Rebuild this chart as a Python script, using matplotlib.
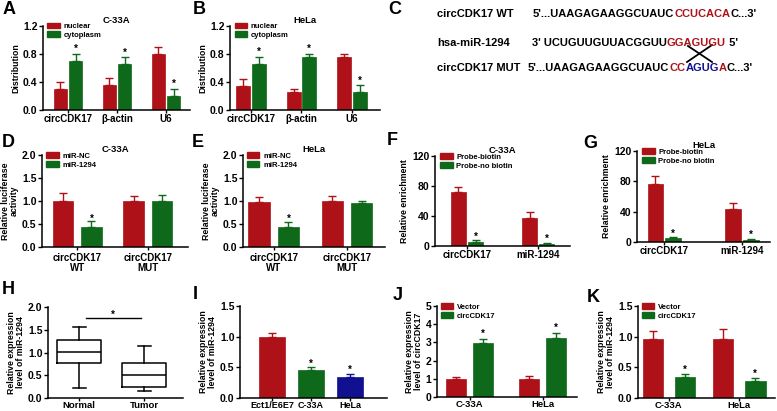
import matplotlib
matplotlib.use("Agg")
import matplotlib.pyplot as plt
import numpy as np

plt.rcParams['font.family'] = ['Liberation Sans', 'DejaVu Sans']
plt.rcParams['font.weight'] = 'bold'
plt.rcParams['axes.labelweight'] = 'bold'
plt.rcParams['axes.titleweight'] = 'bold'

RED = '#AE1218'
GREEN = '#0E6A1A'
BLUE = '#101090'

# ---------------- data ----------------
A_cats = ['circCDK17', 'β-actin', 'U6']
A_nuclear = [0.30, 0.35, 0.80]
A_nuclear_err = [0.10, 0.10, 0.10]
A_cyto = [0.70, 0.65, 0.20]
A_cyto_err = [0.10, 0.10, 0.10]

B_cats = ['circCDK17', 'β-actin', 'U6']
B_nuclear = [0.34, 0.25, 0.75]
B_nuclear_err = [0.10, 0.05, 0.05]
B_cyto = [0.66, 0.75, 0.25]
B_cyto_err = [0.10, 0.05, 0.10]

DE_cats = ['circCDK17\nWT', 'circCDK17\nMUT']
D_nc = [1.00, 1.00]
D_nc_err = [0.17, 0.10]
D_mir = [0.44, 1.00]
D_mir_err = [0.12, 0.12]
E_nc = [0.97, 1.00]
E_nc_err = [0.12, 0.10]
E_mir = [0.44, 0.95]
E_mir_err = [0.10, 0.06]

FG_cats = ['circCDK17', 'miR-1294']
F_biotin = [72, 37]
F_biotin_err = [7, 8]
F_nobiotin = [5, 3]
F_nobiotin_err = [3, 1.5]
G_biotin = [77, 44]
G_biotin_err = [10, 7]
G_nobiotin = [5, 3]
G_nobiotin_err = [1, 1.5]

H_cats = ['Normal', 'Tumor']
H_whislo = [0.22, 0.15]
H_q1 = [0.77, 0.25]
H_med = [1.02, 0.51]
H_q3 = [1.28, 0.76]
H_whishi = [1.55, 1.14]
H_sig = 1.76

I_cats = ['Ect1/E6E7', 'C-33A', 'HeLa']
I_vals = [1.00, 0.46, 0.35]
I_err = [0.06, 0.04, 0.04]

JK_cats = ['C-33A', 'HeLa']
J_vector = [1.00, 1.00]
J_vector_err = [0.10, 0.15]
J_circ = [2.95, 3.25]
J_circ_err = [0.25, 0.28]
K_vector = [0.97, 0.97]
K_vector_err = [0.13, 0.16]
K_circ = [0.34, 0.28]
K_circ_err = [0.05, 0.05]

# ---------------- figure ----------------
W, H = 777, 411
fig = plt.figure(figsize=(W / 100, H / 100), dpi=100)


def px_axes(l, t, r, b):
    return fig.add_axes([l / W, 1 - b / H, (r - l) / W, (b - t) / H])


def style(ax, ylim, yticks, yfmt, ylabel, xlim, xt, xlabels, title=None, xfs=7, xpad=1.0):
    for s in ['top', 'right']:
        ax.spines[s].set_visible(False)
    for s in ['left', 'bottom']:
        ax.spines[s].set_linewidth(1.1)
    ax.set_ylim(*ylim)
    ax.set_xlim(*xlim)
    ax.set_yticks(yticks)
    ax.set_yticklabels([yfmt.format(v) for v in yticks], fontsize=7.5, fontweight='bold')
    ax.set_xticks(xt)
    ax.set_xticklabels(xlabels, fontsize=xfs, fontweight='bold', linespacing=1.0)
    ax.tick_params(axis='y', direction='out', length=3, width=1.0, pad=1.0)
    ax.tick_params(axis='x', direction='out', length=2, width=1.0, pad=xpad)
    ax.set_ylabel(ylabel, fontsize=6.3, fontweight='bold', labelpad=2, linespacing=1.0)
    if title:
        ax.set_title(title, fontsize=6.8, fontweight='bold', pad=2)


def bars(ax, x, vals, errs, color, width):
    ax.bar(x, vals, width=width, color=color, edgecolor=color, linewidth=0.5, zorder=2)
    ax.errorbar(x, vals, yerr=[np.zeros(len(errs)), errs], fmt='none', ecolor=color,
                elinewidth=1.0, capsize=3, capthick=1.0, zorder=1)


def stars(ax, x, vals, errs, pad, which):
    for i in which:
        ax.text(x[i], vals[i] + errs[i] + pad, '*', ha='center', va='bottom',
                fontsize=7, fontweight='bold')


def legend(ax, labels, colors, anchor, fs=5.5):
    from matplotlib.patches import Patch
    handles = [Patch(facecolor=c, edgecolor=c) for c in colors]
    ax.legend(handles, labels, loc='upper left', bbox_to_anchor=anchor, frameon=False,
              handlelength=1.6, handleheight=0.8, handletextpad=0.5,
              labelspacing=0.15, borderaxespad=0, borderpad=0,
              prop={'weight': 'bold', 'size': fs})


# ---- A ----
ax = px_axes(43, 26, 190, 110)
x = np.arange(3)
bars(ax, x - 0.155, A_nuclear, A_nuclear_err, RED, 0.28)
bars(ax, x + 0.155, A_cyto, A_cyto_err, GREEN, 0.28)
stars(ax, x + 0.155, A_cyto, A_cyto_err, 0.0, [0, 1, 2])
style(ax, (0, 1.2), [0, 0.4, 0.8, 1.2], '{:.1f}', 'Distribution', (-0.51, 2.49), x, A_cats, 'C-33A')
legend(ax, ['nuclear', 'cytoplasm'], [RED, GREEN], (0.03, 1.04))

# ---- B ----
ax = px_axes(230, 26, 380, 110)
bars(ax, x - 0.155, B_nuclear, B_nuclear_err, RED, 0.28)
bars(ax, x + 0.155, B_cyto, B_cyto_err, GREEN, 0.28)
stars(ax, x + 0.155, B_cyto, B_cyto_err, 0.0, [0, 1, 2])
style(ax, (0, 1.2), [0, 0.4, 0.8, 1.2], '{:.1f}', 'Distribution', (-0.41, 2.55), x, B_cats, 'HeLa')
legend(ax, ['nuclear', 'cytoplasm'], [RED, GREEN], (0.03, 1.04))

# ---- D ----
x2 = np.arange(2)
ax = px_axes(42, 155, 188, 247)
bars(ax, x2 - 0.2, D_nc, D_nc_err, RED, 0.29)
bars(ax, x2 + 0.2, D_mir, D_mir_err, GREEN, 0.29)
stars(ax, x2 + 0.2, D_mir, D_mir_err, -0.06, [0])
style(ax, (0, 2.0), [0, 0.5, 1.0, 1.5, 2.0], '{:.1f}', 'Relative luciferase\nactivity',
      (-0.5, 1.57), x2, DE_cats, 'C-33A', xpad=2.5)
legend(ax, ['miR-NC', 'miR-1294'], [RED, GREEN], (0.03, 1.03))

# ---- E ----
ax = px_axes(243, 155, 385, 247)
bars(ax, x2 - 0.2, E_nc, E_nc_err, RED, 0.29)
bars(ax, x2 + 0.2, E_mir, E_mir_err, GREEN, 0.29)
stars(ax, x2 + 0.2, E_mir, E_mir_err, -0.04, [0])
style(ax, (0, 2.0), [0, 0.5, 1.0, 1.5, 2.0], '{:.1f}', 'Relative luciferase\nactivity',
      (-0.42, 1.52), x2, DE_cats, 'HeLa', xpad=2.5)
legend(ax, ['miR-NC', 'miR-1294'], [RED, GREEN], (0.03, 1.03))

# ---- F ----
ax = px_axes(435, 156, 570, 246)
bars(ax, x2 - 0.12, F_biotin, F_biotin_err, RED, 0.22)
bars(ax, x2 + 0.12, F_nobiotin, F_nobiotin_err, GREEN, 0.22)
stars(ax, x2 + 0.12, F_nobiotin, F_nobiotin_err, -2, [0, 1])
style(ax, (0, 120), [0, 40, 80, 120], '{:.0f}', 'Relative enrichment',
      (-0.45, 1.45), x2, FG_cats, 'C-33A')
legend(ax, ['Probe-biotin', 'Probe-no biotin'], [RED, GREEN], (0.04, 1.03))

# ---- G ----
ax = px_axes(637, 151, 770, 242)
bars(ax, x2 - 0.115, G_biotin, G_biotin_err, RED, 0.2)
bars(ax, x2 + 0.115, G_nobiotin, G_nobiotin_err, GREEN, 0.2)
stars(ax, x2 + 0.115, G_nobiotin, G_nobiotin_err, -2, [0, 1])
style(ax, (0, 120), [0, 40, 80, 120], '{:.0f}', 'Relative enrichment',
      (-0.35, 1.36), x2, FG_cats, 'HeLa')
legend(ax, ['Probe-biotin', 'Probe-no biotin'], [RED, GREEN], (0.04, 1.03))

# ---- H ----
ax = px_axes(48, 307, 183, 398)
stats = []
for i in range(2):
    stats.append(dict(whislo=H_whislo[i], q1=H_q1[i], med=H_med[i], q3=H_q3[i],
                      whishi=H_whishi[i], fliers=[]))
lw = 1.1
ax.bxp(stats, positions=x2, widths=0.68, showfliers=False,
       boxprops=dict(linewidth=lw, color='black'),
       medianprops=dict(linewidth=lw, color='black'),
       whiskerprops=dict(linewidth=lw, color='black'),
       capprops=dict(linewidth=lw, color='black'), capwidths=0.2)
ax.plot([0.1, 0.95], [H_sig, H_sig], color='black', lw=1.0)
ax.text(0.52, H_sig - 0.05, '*', ha='center', va='bottom', fontsize=7, fontweight='bold')
style(ax, (0, 2.0), [0, 0.5, 1.0, 1.5, 2.0], '{:.1f}', 'Relative expression\nlevel of miR-1294',
      (-0.48, 1.6), x2, H_cats, xfs=6.8, xpad=0.5)

# ---- I ----
ax = px_axes(240, 306, 387, 398)
x3 = np.arange(3)
cols = [RED, GREEN, BLUE]
for i in range(3):
    bars(ax, [x3[i]], [I_vals[i]], [I_err[i]], cols[i], 0.69)
stars(ax, x3, I_vals, I_err, -0.02, [1, 2])
style(ax, (0, 1.5), [0, 0.5, 1.0, 1.5], '{:.1f}', 'Relative expression\nlevel of miR-1294',
      (-0.82, 2.95), x3, I_cats, xfs=6.5, xpad=0.5)

# ---- J ----
ax = px_axes(437, 306, 577, 397)
bars(ax, x2 - 0.185, J_vector, J_vector_err, RED, 0.27)
bars(ax, x2 + 0.185, J_circ, J_circ_err, GREEN, 0.27)
stars(ax, x2 + 0.185, J_circ, J_circ_err, 0.0, [0, 1])
style(ax, (0, 5), [0, 1, 2, 3, 4, 5], '{:.0f}', 'Relative expression\nlevel of circCDK17',
      (-0.45, 1.47), x2, JK_cats, xfs=6.8, xpad=0.5)
legend(ax, ['Vector', 'circCDK17'], [RED, GREEN], (0.03, 1.03))

# ---- K ----
ax = px_axes(638, 306, 775, 398)
bars(ax, x2 - 0.23, K_vector, K_vector_err, RED, 0.29)
bars(ax, x2 + 0.23, K_circ, K_circ_err, GREEN, 0.29)
stars(ax, x2 + 0.23, K_circ, K_circ_err, -0.02, [0, 1])
style(ax, (0, 1.5), [0, 0.5, 1.0, 1.5], '{:.1f}', 'Relative expression\nlevel of miR-1294',
      (-0.44, 1.51), x2, JK_cats, xfs=6.8, xpad=0.5)
legend(ax, ['Vector', 'circCDK17'], [RED, GREEN], (0.03, 1.03))

# ---- C: sequences ----
seq_fs = 8
renderer = fig.canvas.get_renderer()


def seq_line(x0, y0, segments):
    xcur = x0
    for txt, col in segments:
        t = fig.text(xcur / W, 1 - y0 / H, txt, color=col, fontsize=seq_fs,
                     fontweight='bold', ha='left', va='center')
        bb = t.get_window_extent(renderer)
        xcur += bb.width


fig.text(437 / W, 1 - 14 / H, 'circCDK17 WT', fontsize=seq_fs, fontweight='bold', va='center')
fig.text(437 / W, 1 - 43 / H, 'hsa-miR-1294', fontsize=seq_fs, fontweight='bold', va='center')
fig.text(437 / W, 1 - 68 / H, 'circCDK17 MUT', fontsize=seq_fs, fontweight='bold', va='center')
seq_line(533, 14, [("5'...UAAGAGAAGGCUAUC", 'black'), ('CCUCACA', RED), ("C...3'", 'black')])
seq_line(532, 43, [("3' UCUGUUGUUACGGUU", 'black'), ('GGAGUGU', RED), (" 5'", 'black')])
seq_line(528, 68, [("5'...UAAGAGAAGGCUAUC", 'black'), ('CC', RED), ('AGUG', BLUE),
                   ('A', RED), ("C...3'", 'black')])
fig.add_artist(plt.Line2D([687 / W, 712 / W], [1 - 62 / H, 1 - 45 / H], color='black', lw=1.3))
fig.add_artist(plt.Line2D([688 / W, 712 / W], [1 - 46 / H, 1 - 62 / H], color='black', lw=1.3))

# ---- panel letters ----
letters = [('A', 3, 10), ('B', 193, 10), ('C', 388, 10), ('D', 2, 142), ('E', 192, 142),
           ('F', 387, 140), ('G', 583, 144), ('H', 2, 289), ('I', 193, 294), ('J', 393, 295),
           ('K', 587, 297)]
for s, lx, ly in letters:
    fig.text(lx / W, 1 - ly / H, s, fontsize=13, fontweight='bold', va='center', ha='left')

fig.savefig('out.png', dpi=100)
